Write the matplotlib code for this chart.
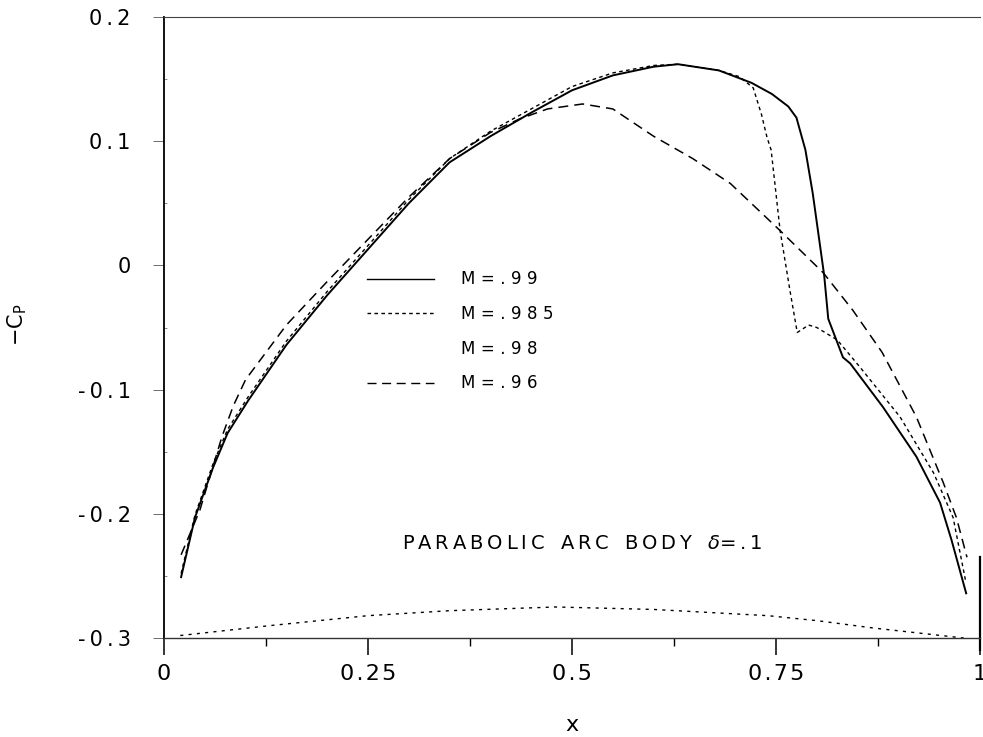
import matplotlib
matplotlib.use("Agg")
import matplotlib.pyplot as plt
from matplotlib.lines import Line2D
from matplotlib.ticker import FixedLocator, FixedFormatter

# Pressure coefficient along a parabolic arc body, delta = 0.1
x_99 = [0.021, 0.038, 0.060, 0.078, 0.103, 0.15, 0.20, 0.25, 0.30, 0.35, 0.40, 0.45,
        0.50, 0.55, 0.60, 0.63, 0.68, 0.72, 0.745, 0.765, 0.775, 0.786, 0.795, 0.809,
        0.814, 0.832, 0.841, 0.881, 0.922, 0.951, 0.965, 0.983]
cp_99 = [-0.251, -0.203, -0.163, -0.135, -0.109, -0.064, -0.024, 0.013, 0.050, 0.083,
         0.104, 0.123, 0.141, 0.153, 0.160, 0.162, 0.157, 0.147, 0.138, 0.128, 0.119,
         0.093, 0.058, -0.008, -0.043, -0.074, -0.079, -0.114, -0.154, -0.191, -0.221,
         -0.264]

x_985 = [0.021, 0.038, 0.060, 0.078, 0.103, 0.15, 0.20, 0.25, 0.30, 0.35, 0.40, 0.45,
         0.50, 0.55, 0.60, 0.63, 0.68, 0.705, 0.722, 0.732, 0.739, 0.744, 0.755, 0.767,
         0.776, 0.790, 0.800, 0.825, 0.853, 0.902, 0.943, 0.967, 0.982]
cp_985 = [-0.248, -0.201, -0.160, -0.132, -0.106, -0.061, -0.021, 0.016, 0.053, 0.086,
          0.108, 0.126, 0.144, 0.155, 0.161, 0.162, 0.157, 0.152, 0.143, 0.122, 0.103,
          0.093, 0.028, -0.020, -0.054, -0.048, -0.050, -0.060, -0.082, -0.122, -0.167,
          -0.203, -0.253]

x_96 = [0.021, 0.044, 0.071, 0.085, 0.10, 0.15, 0.20, 0.25, 0.30, 0.35, 0.40, 0.436,
        0.47, 0.513, 0.55, 0.60, 0.648, 0.694, 0.755, 0.808, 0.844, 0.88, 0.922, 0.955,
        0.971, 0.984]
cp_96 = [-0.233, -0.197, -0.138, -0.113, -0.092, -0.048, -0.013, 0.021, 0.055, 0.086,
         0.107, 0.118, 0.126, 0.130, 0.126, 0.104, 0.086, 0.066, 0.028, -0.006, -0.036,
         -0.070, -0.122, -0.175, -0.203, -0.235]

# body profile drawn along the bottom of the frame
x_body = [0.02, 0.13, 0.25, 0.35, 0.48, 0.60, 0.74, 0.80, 0.87, 0.98]
cp_body = [-0.298, -0.290, -0.282, -0.278, -0.275, -0.277, -0.282, -0.286, -0.292, -0.300]

legend_labels = ["M=.99", "M=.985", "M=.98", "M=.96"]
x_ticks = [0, 0.25, 0.5, 0.75, 1]
x_ticklabels = ["0", "0.25", "0.5", "0.75", "1"]
y_ticks = [-0.3, -0.2, -0.1, 0, 0.1, 0.2]
y_ticklabels = ["-0.3", "-0.2", "-0.1", "0", "0.1", "0.2"]
note_words = ["PARABOLIC", "ARC", "BODY"]


def spaced(s, gap="\u2009"):
    return gap.join(s)


fig = plt.figure(figsize=(9.83, 7.37), dpi=100)
ax = fig.add_axes([0.1668, 0.1343, 0.8302, 0.8426])

ax.plot(x_99, cp_99, color="black", lw=1.4, solid_joinstyle="miter")
ax.plot(x_985, cp_985, color="black", lw=1.0, dashes=(2.6, 2.4))
ax.plot(x_96, cp_96, color="black", lw=1.1, dashes=(6.5, 4.0))
ax.plot(x_body, cp_body, color="black", lw=1.0, dashes=(2.2, 3.8))

ax.set_xlim(0, 1)
ax.set_ylim(-0.3, 0.2)

ax.xaxis.set_major_locator(FixedLocator(x_ticks))
ax.xaxis.set_major_formatter(FixedFormatter([spaced(t, "\u200a") for t in x_ticklabels]))
ax.xaxis.set_minor_locator(FixedLocator([0.125, 0.375, 0.625, 0.875]))
ax.yaxis.set_major_locator(FixedLocator(y_ticks))
ax.yaxis.set_major_formatter(FixedFormatter([spaced(t) for t in y_ticklabels]))
ax.yaxis.set_minor_locator(FixedLocator([-0.25, -0.15, -0.05, 0.05, 0.15]))

ax.tick_params(axis="x", which="major", direction="out", length=12, width=1.1,
               pad=7, labelsize=16)
ax.tick_params(axis="x", which="minor", direction="out", length=6, width=1.0)
ax.tick_params(axis="y", which="major", direction="out", length=8, width=0.6,
               color="#555555", pad=16, labelsize=15)
ax.tick_params(axis="y", which="minor", direction="in", length=2, width=0.6,
               color="#777777")

ax.spines["left"].set_linewidth(1.3)
ax.spines["bottom"].set_linewidth(1.0)
ax.spines["bottom"].set_color("#333333")
ax.spines["top"].set_linewidth(0.8)
ax.spines["top"].set_color("#444444")
ax.spines["right"].set_visible(False)
ax.plot([1, 1], [-0.02, 0.13], transform=ax.transAxes, color="black", lw=1.6,
        clip_on=False)

ax.set_xlabel("x", fontsize=16, labelpad=22)
fig.text(0.018, 0.56, r"$-\mathrm{C}_{\mathrm{P}}$", rotation=90, fontsize=15,
         ha="center", va="center")

handles = [
    Line2D([], [], color="black", lw=1.0),
    Line2D([], [], color="black", lw=1.0, dashes=(2.6, 2.4)),
    Line2D([], [], color="none", lw=1.0),
    Line2D([], [], color="black", lw=1.0, dashes=(6.5, 4.0)),
]
ax.legend(handles, [spaced(l, "\u2004") for l in legend_labels],
          loc="upper left", bbox_to_anchor=(0.249, 0.592), frameon=False,
          fontsize=12, handlelength=4.0, handletextpad=1.6, labelspacing=1.0,
          borderpad=0, borderaxespad=0)

word_gap = " \u2005\u2005"
note = word_gap.join(spaced(w) for w in note_words)
ax.text(0.292, -0.224, note + word_gap + r"$\delta$" + spaced("=.1"),
        fontsize=14, ha="left", va="center")

fig.savefig("out.png", dpi=100)
